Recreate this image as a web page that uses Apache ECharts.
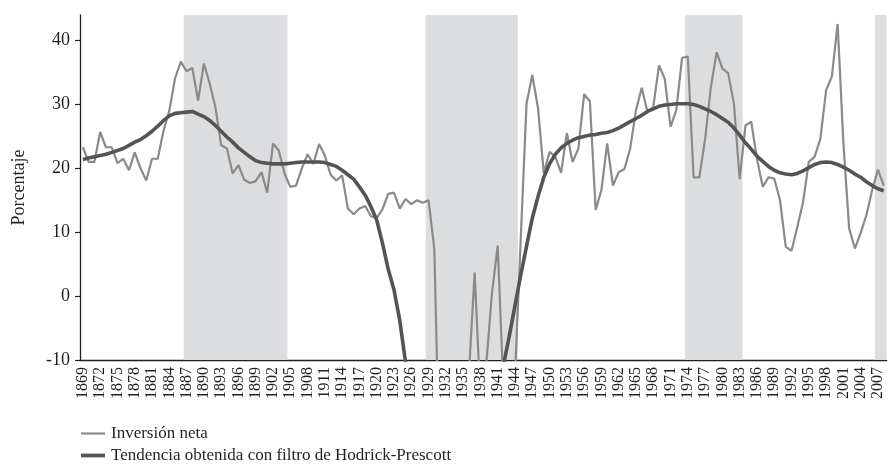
<!DOCTYPE html>
<html>
<head>
<meta charset="utf-8">
<script src="https://cdn.jsdelivr.net/npm/echarts@6/dist/echarts.min.js"></script>
<style>
html,body{margin:0;padding:0;background:#fff;}
#chart{width:891px;height:474px;}
</style>
</head>
<body>
<div id="chart"></div>
<script>
const firstYear = 1869, lastYear = 2008;
const years = [];
for (let y = firstYear; y <= lastYear; y++) years.push(String(y));

const inversionNeta = [
  23.3, 21.0, 21.0, 25.7, 23.3, 23.3, 20.8, 21.5, 19.7, 22.5,
  20.0, 18.1, 21.5, 21.5, 25.9, 29.0, 34.1, 36.7, 35.2, 35.7,
  30.6, 36.4, 33.3, 29.6, 23.6, 23.1, 19.2, 20.5, 18.2, 17.7,
  18.0, 19.4, 16.2, 23.9, 22.8, 19.2, 17.1, 17.3, 20.0, 22.2,
  20.7, 23.8, 22.0, 19.0, 18.1, 18.9, 13.7, 12.8, 13.7, 14.1,
  12.5, 12.2, 13.6, 16.0, 16.2, 13.7, 15.2, 14.4, 15.0, 14.6,
  15.0, 7.4, -31, -30, -28, -25, -22, -12.2, 3.7, -16.2,
  -10.8, 0.4, 7.9, -14.5, -20, -12.5, 9.0, 30.1, 34.6, 29.4,
  19.2, 22.6, 21.8, 19.3, 25.5, 21.0, 23.1, 31.6, 30.5, 13.5,
  16.6, 23.9, 17.3, 19.4, 19.9, 23.1, 29.1, 32.6, 28.8, 29.6,
  36.1, 34.0, 26.5, 29.1, 37.3, 37.5, 18.6, 18.6, 24.6, 32.7,
  38.2, 35.6, 34.9, 30.1, 18.3, 26.7, 27.3, 21.5, 17.1, 18.6,
  18.4, 15.0, 7.7, 7.1, 10.8, 14.7, 21.0, 21.8, 24.6, 32.2,
  34.4, 42.6, 24.0, 10.6, 7.45, 9.9, 12.7, 16.6, 19.8, 17.3
];

const tendenciaHP = [
  21.4, 21.6, 21.8, 22.0, 22.2, 22.5, 22.8, 23.1, 23.6, 24.1,
  24.5, 25.1, 25.8, 26.6, 27.5, 28.2, 28.6, 28.7, 28.8, 28.9,
  28.5, 28.1, 27.5, 26.7, 25.8, 24.9, 24.1, 23.2, 22.5, 21.8,
  21.2, 20.9, 20.8, 20.7, 20.7, 20.7, 20.8, 20.9, 21.0, 21.0,
  21.0, 21.0, 20.9, 20.6, 20.3, 19.7, 19.0, 18.3, 17.1, 15.8,
  14.0, 11.9, 8.3, 4.2, 1.0, -3.8, -10.3, -16.5, -22, -26,
  -29, -31, -32, -32.5, -32, -31, -29, -27, -24.5, -22,
  -19.5, -17, -15, -10.8, -6.3, -1.5, 3.3, 7.8, 12.2, 15.6,
  18.6, 20.7, 22.2, 23.2, 23.9, 24.4, 24.8, 25.0, 25.2, 25.3,
  25.5, 25.6, 25.9, 26.3, 26.8, 27.3, 27.8, 28.3, 28.9, 29.3,
  29.7, 29.9, 30.0, 30.1, 30.1, 30.1, 30.0, 29.7, 29.3, 28.9,
  28.4, 27.8, 27.2, 26.3, 25.2, 24.0, 23.0, 21.9, 21.1, 20.3,
  19.7, 19.3, 19.1, 19.0, 19.2, 19.6, 20.1, 20.6, 20.9, 21.0,
  20.9, 20.6, 20.2, 19.7, 19.1, 18.6, 17.9, 17.3, 16.8, 16.5
];

// shaded periods (inclusive years)
const shadedPeriods = [[1887, 1904], [1929, 1944], [1974, 1983], [2007, 2008]];
const yTicks = [-10, 0, 10, 20, 30, 40];

const shadeData = shadedPeriods.map(p => [years.indexOf(String(p[0])), years.indexOf(String(p[1]))]);

const FONT = 'Liberation Serif';
const TXT = '#231f20';
const C_INV = '#8a8a8a';
const C_TREND = '#545454';

const chart = echarts.init(document.getElementById('chart'), null, {renderer: 'canvas'});
chart.setOption({
  animation: false,
  backgroundColor: '#ffffff',
  grid: {left: 80, right: 4.4, top: 15, bottom: 114, containLabel: false},
  legend: {
    orient: 'vertical',
    left: 76,
    top: 420,
    itemWidth: 24,
    itemHeight: 10,
    itemGap: 5,
    data: [
      {name: 'Inversión neta', icon: 'path://M0 0H24V2.2H0Z'},
      {name: 'Tendencia obtenida con filtro de Hodrick-Prescott', icon: 'path://M0 0H24V3.8H0Z'}
    ],
    textStyle: {fontFamily: FONT, fontSize: 17, color: TXT, padding: [0, 0, 0, 1]}
  },
  xAxis: {
    type: 'category',
    data: years,
    boundaryGap: true,
    axisLine: {onZero: false, lineStyle: {color: TXT, width: 1.3}},
    axisTick: {interval: 2, length: 6, lineStyle: {color: TXT, width: 1.2}},
    axisLabel: {interval: 2, rotate: 90, margin: 7, fontFamily: FONT, fontSize: 16, color: TXT},
    splitLine: {show: false}
  },
  yAxis: [{
    type: 'value',
    min: -10,
    max: 44,
    interval: 10,
    name: 'Porcentaje',
    nameLocation: 'middle',
    nameGap: 52,
    nameTextStyle: {fontFamily: FONT, fontSize: 18, color: TXT},
    axisLine: {show: true, lineStyle: {color: TXT, width: 1.3}},
    axisTick: {show: true, length: 5, customValues: yTicks, lineStyle: {color: TXT, width: 1.2}},
    axisLabel: {customValues: yTicks, margin: 10, fontFamily: FONT, fontSize: 18, color: TXT},
    splitLine: {show: false}
  }, {
    type: 'value',
    min: 0,
    max: 1,
    show: false
  }],
  series: [{
    name: 'shade',
    type: 'custom',
    yAxisIndex: 1,
    data: shadeData,
    silent: true,
    z: 1,
    encode: {x: [0, 1]},
    renderItem: function (params, api) {
      const s = api.value(0), e = api.value(1);
      const band = api.size([1, 0])[0];
      const p0 = api.coord([s, 1]);
      const p1 = api.coord([e, 0]);
      return {
        type: 'rect',
        shape: {x: p0[0] - band / 2, y: p0[1], width: p1[0] - p0[0] + band, height: p1[1] - p0[1]},
        style: {fill: '#dcdddf'}
      };
    }
  }, {
    name: 'Inversión neta',
    type: 'line',
    data: inversionNeta,
    symbol: 'none',
    clip: true,
    lineStyle: {color: C_INV, width: 2.2},
    itemStyle: {color: C_INV},
    z: 3
  }, {
    name: 'Tendencia obtenida con filtro de Hodrick-Prescott',
    type: 'line',
    data: tendenciaHP,
    symbol: 'none',
    clip: true,
    lineStyle: {color: C_TREND, width: 3.6},
    itemStyle: {color: C_TREND},
    z: 4
  }]
});
</script>
</body>
</html>
